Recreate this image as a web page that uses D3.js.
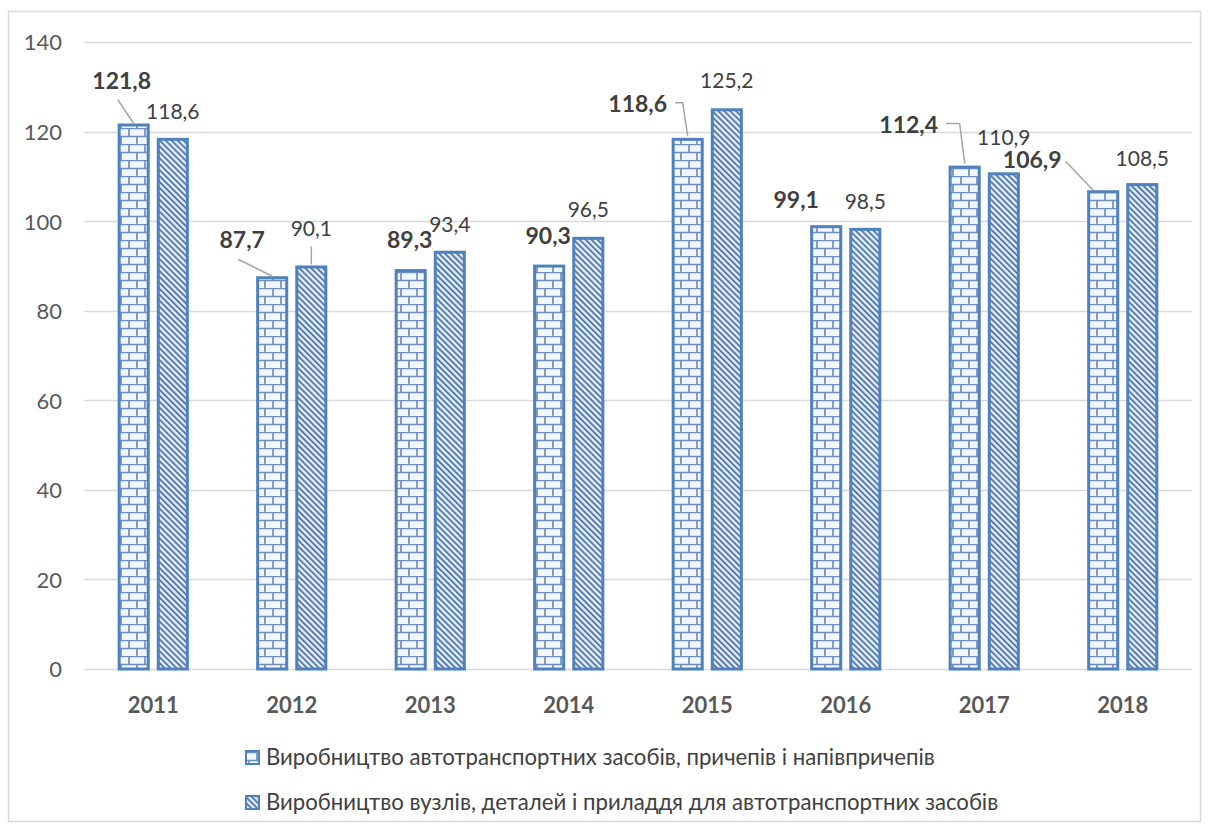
<!DOCTYPE html>
<html>
<head>
<meta charset="utf-8">
<script src="https://cdn.jsdelivr.net/npm/d3@7"></script>
<style>
  body { margin: 0; background: #fff; }
  svg { display: block; font-family: Lato, "Open Sans", sans-serif; }
</style>
</head>
<body>
<svg id="chart" width="1211" height="833"></svg>
<script>
var years = ["2011", "2012", "2013", "2014", "2015", "2016", "2017", "2018"];
var seriesNames = ["Виробництво автотранспортних засобів, причепів і напівпричепів",
                   "Виробництво вузлів, деталей і приладдя для автотранспортних засобів"];
var vehicles = [121.8, 87.7, 89.3, 90.3, 118.6, 99.1, 112.4, 106.9];
var parts = [118.6, 90.1, 93.4, 96.5, 125.2, 98.5, 110.9, 108.5];
var yTicks = [0, 20, 40, 60, 80, 100, 120, 140];

// label nudges from bar top centre: [dx, dy, leader]
var vehLabelPos = [[-12, -35, "line"], [-30, -28, "line"], [-1, -21, ""], [-1, -21, ""],
                   [-50, -26, "elbow"], [-30, -17, ""], [-56, -33, "elbow"], [-71, -22, "line"]];
var partLabelPos = [[0, -19, ""], [0, -29, "down"], [0, -19, ""], [0, -20, ""],
                    [0, -20, ""], [0, -19, ""], [0, -27, ""], [0, -17, ""]];

var svg = d3.select("#chart");
var blue = "#4f81bd";
var textCol = "#404040";
var axisCol = "#595959";

var x = d3.scaleBand().domain(years).range([84, 1192]).paddingInner(0.486).paddingOuter(0.243);
var x1 = d3.scaleBand().domain([0, 1]).range([0, x.bandwidth()]).paddingInner(0.18);
var y = d3.scaleLinear().domain([0, 140]).range([669, 42]);

// patterns
var defs = svg.append("defs");
var brick = defs.append("pattern")
    .attr("id", "brick")
    .attr("patternUnits", "userSpaceOnUse")
    .attr("width", 16).attr("height", 16);
brick.append("rect").attr("width", 16).attr("height", 16).attr("fill", "#f2f7fd");
brick.append("path")
    .attr("d", "M0 0.5H16M0 8.5H16M1 0V8M9 8V16")
    .attr("stroke", "#6f8fc0")
    .attr("stroke-width", 1.7)
    .attr("fill", "none");

var hatch = defs.append("pattern")
    .attr("id", "hatch")
    .attr("patternUnits", "userSpaceOnUse")
    .attr("width", 4.2).attr("height", 10)
    .attr("patternTransform", "rotate(-45)");
hatch.append("rect").attr("width", 4.2).attr("height", 10).attr("fill", "#e6eef8");
hatch.append("line")
    .attr("x1", 1).attr("x2", 1).attr("y1", 0).attr("y2", 10)
    .attr("stroke", "#4a72a8")
    .attr("stroke-width", 1.8);

// chart border
svg.append("rect")
    .attr("x", 8.5).attr("y", 11.5)
    .attr("width", 1192).attr("height", 810)
    .attr("fill", "none")
    .attr("stroke", "#d9d9d9")
    .attr("stroke-width", 1.5);

// gridlines
svg.append("g").selectAll("line").data(yTicks).enter().append("line")
    .attr("x1", 84).attr("x2", 1192)
    .attr("y1", d => Math.round(y(d)) + 0.5)
    .attr("y2", d => Math.round(y(d)) + 0.5)
    .attr("stroke", "#d9d9d9")
    .attr("stroke-width", 1.5);

var yAxis = svg.append("g")
    .attr("transform", "translate(62,0)")
    .call(d3.axisLeft(y).tickValues(yTicks).tickSize(0).tickPadding(0));
yAxis.select(".domain").remove();
yAxis.selectAll("text")
    .attr("fill", axisCol)
    .attr("font-size", 22)
    .attr("font-family", "Lato")
    .attr("dy", "0.36em");

var xAxis = svg.append("g")
    .attr("transform", "translate(0,669)")
    .call(d3.axisBottom(x).tickSize(0).tickPadding(0));
xAxis.select(".domain").remove();
xAxis.selectAll("text")
    .attr("fill", axisCol)
    .attr("font-size", 22)
    .attr("font-weight", "bold")
    .attr("font-family", "Lato")
    .attr("y", 44)
    .attr("dy", 0);

// bars
var series = [
    {vals: vehicles, fill: "url(#brick)", pos: vehLabelPos, bold: true},
    {vals: parts, fill: "url(#hatch)", pos: partLabelPos, bold: false}
];

series.forEach(function(s, si) {
    var g = svg.append("g");
    g.selectAll("rect").data(s.vals).enter().append("rect")
        .attr("x", (d, i) => x(years[i]) + x1(si) + 1.5)
        .attr("y", d => y(d) + 1.5)
        .attr("width", x1.bandwidth() - 3)
        .attr("height", d => y(0) - y(d) - 1.5)
        .attr("fill", s.fill)
        .attr("stroke", blue)
        .attr("stroke-width", 3);
});

// leader lines + labels
function barTop(si, i) {
    return [x(years[i]) + x1(si) + x1.bandwidth() / 2, y(series[si].vals[i])];
}

series.forEach(function(s, si) {
    var lab = svg.append("g");
    s.vals.forEach(function(v, i) {
        var top = barTop(si, i);
        var p = s.pos[i];
        var lx = top[0] + p[0];
        var ly = top[1] + p[1];
        var t = lab.append("text")
            .attr("x", lx).attr("y", ly)
            .attr("text-anchor", "middle")
            .attr("fill", textCol)
            .attr("font-size", s.bold ? 23 : 21)
            .attr("font-weight", s.bold ? "bold" : "normal")
            .text(d3.format(".1f")(v).replace(".", ","));
        var w = t.node().getComputedTextLength();
        var pts = null;
        if (p[2] == "line")
        {
            if (i == 7)
                pts = [[lx + w / 2 + 4, ly - 7], [top[0] - 10, top[1]]];
            else
                pts = [[lx - 4, ly + 11], [top[0], top[1]]];
        }
        else if (p[2] == "elbow")
        {
            pts = [[lx + w / 2 + 8, ly - 9], [top[0] - 5, ly - 9], [top[0], top[1] - 2]];
        }
        else if (p[2] == "down")
        {
            pts = [[top[0], ly + 10], [top[0], top[1] - 1]];
        }
        if (pts)
        {
            lab.append("path")
                .attr("d", d3.line()(pts))
                .attr("fill", "none")
                .attr("stroke", "#a6a6a6")
                .attr("stroke-width", 1.5);
        }
    });
});

// legend
var legend = svg.append("g");
var legendY = [758, 803];
var legendTexts = [];
seriesNames.forEach(function(name, i) {
    legend.append("rect")
        .attr("x", 246).attr("y", legendY[i] - 7)
        .attr("width", 13).attr("height", 13)
        .attr("fill", series[i].fill)
        .attr("stroke", blue)
        .attr("stroke-width", 2);
    legendTexts.push(legend.append("text")
        .attr("x", 266).attr("y", legendY[i] + 7)
        .attr("fill", textCol)
        .attr("font-size", 19)
        .text(name));
});
// stretch font size so the first line spans like the original (about 669px)
var fitSize = 19 * 669 / legendTexts[0].node().getComputedTextLength();
legendTexts.forEach(t => t.attr("font-size", fitSize));
</script>
</body>
</html>
